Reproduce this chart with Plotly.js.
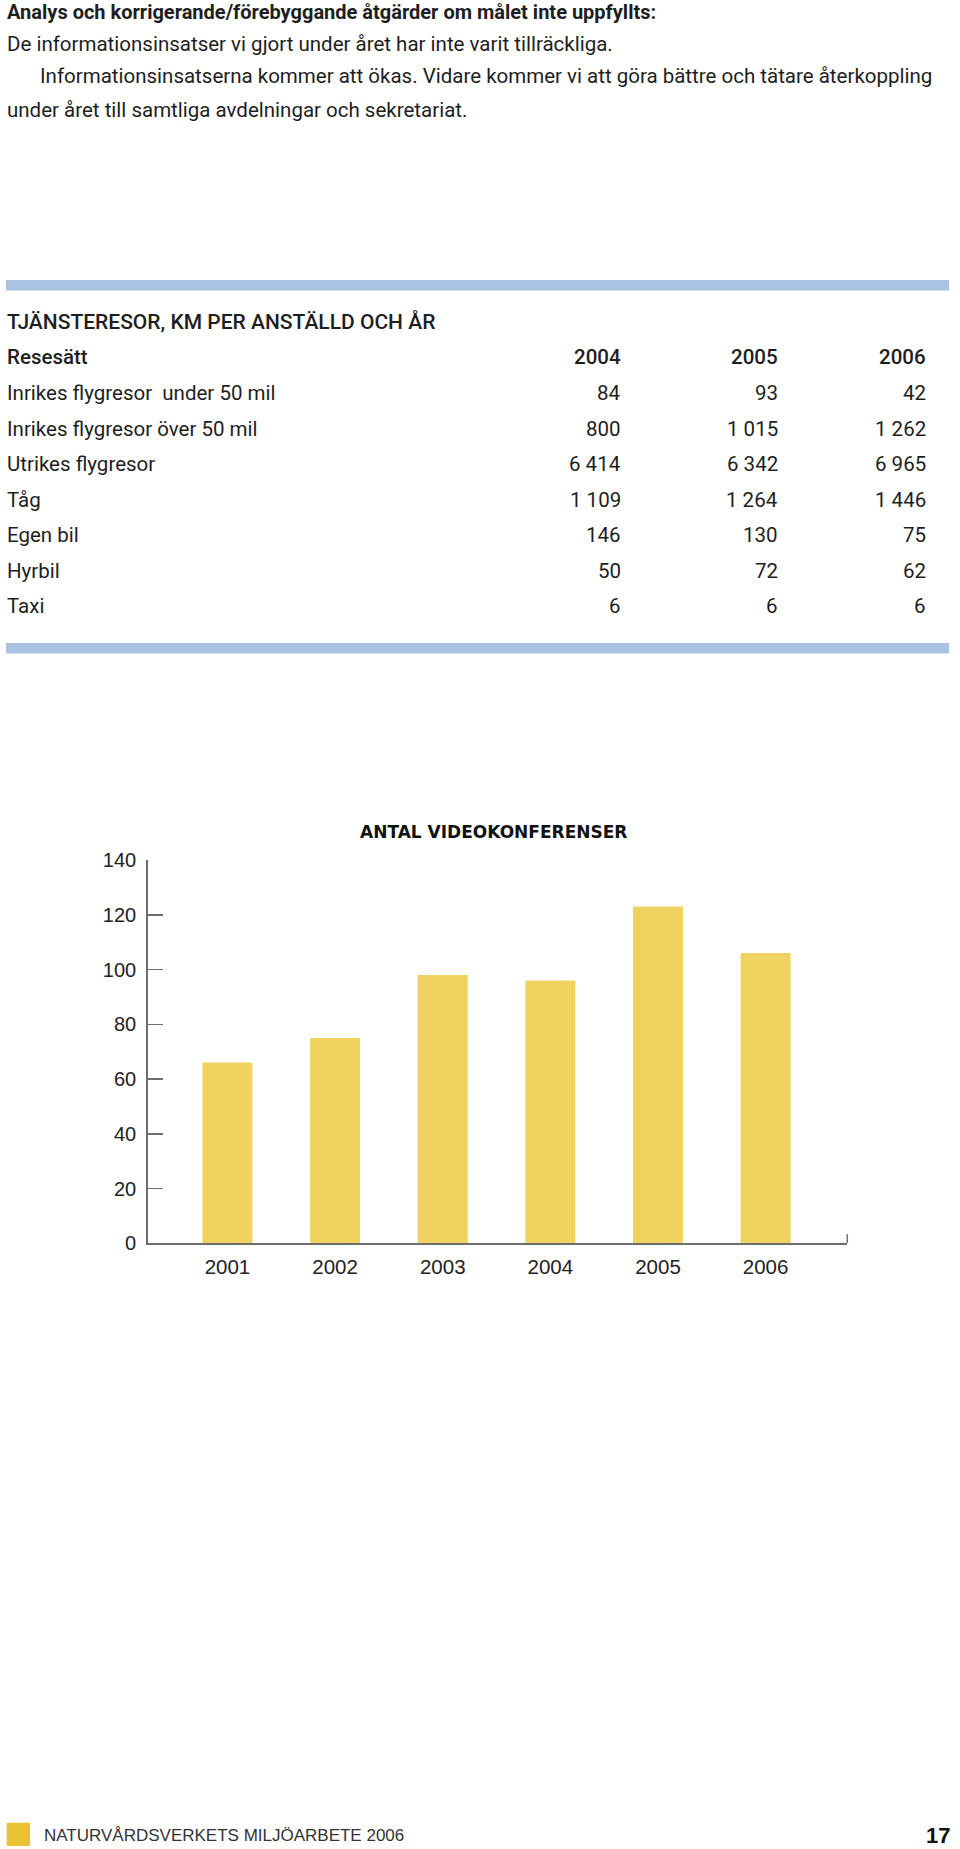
<!DOCTYPE html>
<html>
<head>
<meta charset="utf-8">
<script src="https://cdn.plot.ly/plotly-3.0.1.min.js"></script>
<style>
html,body{margin:0;padding:0;background:#fff;}
</style>
</head>
<body>
<div id="chart" style="width:960px;height:1849px;"></div>
<script>
// ---------- data ----------
const introBold = "Analys och korrigerande/förebyggande åtgärder om målet inte uppfyllts:";
const introLines = [
  "De informationsinsatser vi gjort under året har inte varit tillräckliga.",
  "Informationsinsatserna kommer att ökas. Vidare kommer vi att göra bättre och tätare återkoppling",
  "under året till samtliga avdelningar och sekretariat."
];
const tableTitle = "TJÄNSTERESOR, KM PER ANSTÄLLD OCH ÅR";
const tableHeader = "Resesätt";
const tableYears = ["2004", "2005", "2006"];
const travelModes = [
  "Inrikes flygresor\u00a0 under 50 mil",
  "Inrikes flygresor över 50 mil",
  "Utrikes flygresor",
  "Tåg",
  "Egen bil",
  "Hyrbil",
  "Taxi"
];
const km2004 = [84, 800, 6414, 1109, 146, 50, 6];
const km2005 = [93, 1015, 6342, 1264, 130, 72, 6];
const km2006 = [42, 1262, 6965, 1446, 75, 62, 6];

const chartTitle = "ANTAL VIDEOKONFERENSER";
const videoYears = ["2001", "2002", "2003", "2004", "2005", "2006"];
const videoConferences = [66, 75, 98, 96, 123, 106];

const footerText = "NATURVÅRDSVERKETS MILJÖARBETE 2006";
const pageNumber = "17";

// ---------- helpers ----------
const W = 960, H = 1849;
const px = x => x / W;
const py = y => 1 - y / H;
const fmt = n => String(n).replace(/\B(?=(\d{3})+(?!\d))/g, " ");

const TEXT = "#1e1e1e";
const AXIS = "#6e6e6e";
const BODY_FONT = "Roboto, 'Liberation Sans', sans-serif";
const CHART_FONT = "'Liberation Sans', Arial, sans-serif";

function ann(text, x, y, xanchor, font) {
  return {
    text: text, xref: "paper", yref: "paper",
    x: px(x), y: py(y), xanchor: xanchor, yanchor: "middle",
    showarrow: false, borderpad: 0,
    font: Object.assign({family: BODY_FONT, size: 20.5, color: TEXT}, font || {})
  };
}

const annotations = [];
// intro text
annotations.push(ann(introBold, 6, 12, "left", {size: 20, weight: 700}));
annotations.push(ann(introLines[0], 6, 43.5, "left"));
annotations.push(ann(introLines[1], 39, 76.5, "left"));
annotations.push(ann(introLines[2], 6, 110, "left"));

// table
const colRight = [621.5, 778.5, 926.5];
const tableFont = {size: 20.5};
annotations.push(ann(tableTitle, 6, 322, "left", {size: 21, weight: 500}));
annotations.push(ann(tableHeader, 6, 357.5, "left", {weight: 500}));
tableYears.forEach((yr, i) => annotations.push(ann(yr, colRight[i], 357.5, "right", {weight: 500})));
const cols = [km2004, km2005, km2006];
travelModes.forEach((mode, r) => {
  const yy = 393 + r * 35.55;
  annotations.push(ann(mode, 6, yy, "left", tableFont));
  cols.forEach((col, c) => annotations.push(ann(fmt(col[r]), colRight[c], yy, "right", tableFont)));
});

// chart title
annotations.push(ann(chartTitle, 494, 832, "center", {family: "'DejaVu Sans', sans-serif", size: 17, weight: 700, color: "#111"}));

// footer
annotations.push(ann(footerText, 43, 1835, "left", {family: CHART_FONT, size: 17, color: "#333"}));
annotations.push(ann(pageNumber, 951, 1835, "right", {family: CHART_FONT, size: 22, weight: 700, color: "#111"}));

const BLUE = "#a9c3e2";
const shapes = [
  {type: "rect", xref: "paper", yref: "paper", x0: px(6), x1: px(949), y0: py(280), y1: py(290.5), fillcolor: BLUE, line: {width: 0}, layer: "below"},
  {type: "rect", xref: "paper", yref: "paper", x0: px(6), x1: px(949), y0: py(643), y1: py(653.5), fillcolor: BLUE, line: {width: 0}, layer: "below"},
  {type: "rect", xref: "paper", yref: "paper", x0: px(6.7), x1: px(30), y0: py(1822.7), y1: py(1846), fillcolor: "#ebc233", line: {width: 0}},
  {type: "line", xref: "x domain", x0: 1, x1: 1, yref: "y", ysizemode: "pixel", yanchor: 0, y0: 0, y1: 9, line: {color: AXIS, width: 1.5}}
];

const trace = {
  type: "bar",
  x: videoYears,
  y: videoConferences,
  marker: {color: "#efd25f", line: {width: 0}},
  hoverinfo: "none"
};

const layout = {
  width: W, height: H,
  margin: {l: 0, r: 0, t: 0, b: 0, pad: 0},
  paper_bgcolor: "#fff", plot_bgcolor: "rgba(0,0,0,0)",
  font: {family: CHART_FONT, color: "#222"},
  showlegend: false,
  bargap: 0.536,
  xaxis: {
    type: "category",
    domain: [147.7 / W, 847.3 / W],
    range: [-0.741, 5.759],
    showline: true, linecolor: AXIS, linewidth: 1.5,
    ticks: "", showgrid: false, zeroline: false,
    tickfont: {family: CHART_FONT, size: 20.5, color: "#222"},
    ticklabelstandoff: 5,
    fixedrange: true
  },
  yaxis: {
    domain: [1 - 1243.3 / H, 1 - 860 / H],
    range: [0, 140], tick0: 0, dtick: 20,
    ticks: "inside", ticklen: 15, tickwidth: 1.5, tickcolor: AXIS,
    showline: true, linecolor: AXIS, linewidth: 1.5,
    showgrid: false, zeroline: false,
    tickfont: {family: CHART_FONT, size: 20, color: "#222"},
    ticklabelstandoff: 6,
    fixedrange: true
  },
  annotations: annotations,
  shapes: shapes
};

Plotly.newPlot("chart", [trace], layout, {staticPlot: true, displayModeBar: false});
</script>
</body>
</html>
